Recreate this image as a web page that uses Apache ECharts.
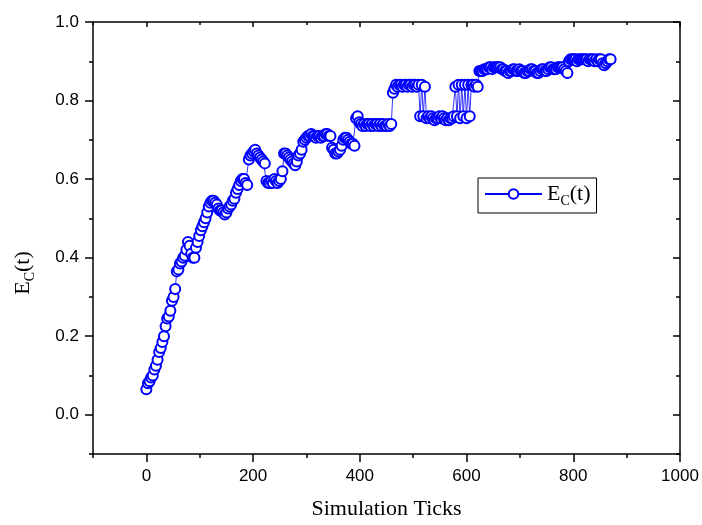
<!DOCTYPE html>
<html>
<head>
<meta charset="utf-8">
<script src="https://cdn.jsdelivr.net/npm/echarts@6/dist/echarts.min.js"></script>
<style>
  html, body { margin: 0; padding: 0; background: #fff; }
  #main { width: 702px; height: 525px; }
</style>
</head>
<body>
<div id="main"></div>
<script>
var chartDom = document.getElementById('main');
var myChart = echarts.init(chartDom);
var option;

const tickStep = 3;
const ecValues = [
  0.065, 0.08, 0.085, 0.095, 0.10, 0.115, 0.125, 0.14, 0.16, 0.17,
  0.185, 0.20, 0.225, 0.245, 0.25, 0.265, 0.29, 0.30, 0.32, 0.365,
  0.37, 0.385, 0.39, 0.40, 0.405, 0.42, 0.44, 0.43, 0.41, 0.40,
  0.40, 0.425, 0.44, 0.455, 0.47, 0.48, 0.49, 0.50, 0.515, 0.53,
  0.54, 0.545, 0.545, 0.54, 0.535, 0.525, 0.52, 0.52, 0.515, 0.51,
  0.515, 0.525, 0.53, 0.535, 0.545, 0.55, 0.565, 0.575, 0.585, 0.595,
  0.60, 0.60, 0.59, 0.585, 0.65, 0.66, 0.665, 0.67, 0.675, 0.665,
  0.66, 0.655, 0.65, 0.645, 0.64, 0.595, 0.59, 0.59, 0.595, 0.59,
  0.60, 0.595, 0.59, 0.595, 0.60, 0.62, 0.665, 0.665, 0.66, 0.655,
  0.65, 0.645, 0.64, 0.635, 0.645, 0.66, 0.665, 0.675, 0.695, 0.70,
  0.705, 0.71, 0.71, 0.715, 0.71, 0.71, 0.705, 0.71, 0.71, 0.705,
  0.71, 0.71, 0.715, 0.715, 0.71, 0.71, 0.68, 0.675, 0.665, 0.665,
  0.67, 0.675, 0.685, 0.70, 0.705, 0.705, 0.70, 0.695, 0.69, 0.69,
  0.685, 0.755, 0.76, 0.745, 0.74, 0.735, 0.74, 0.735, 0.74, 0.74,
  0.735, 0.74, 0.735, 0.74, 0.74, 0.735, 0.74, 0.735, 0.74, 0.735,
  0.735, 0.74, 0.735, 0.74, 0.82, 0.83, 0.84, 0.835, 0.84, 0.84,
  0.835, 0.84, 0.84, 0.835, 0.84, 0.84, 0.835, 0.84, 0.84, 0.835,
  0.84, 0.76, 0.84, 0.76, 0.835, 0.755, 0.76, 0.755, 0.76, 0.755,
  0.75, 0.755, 0.755, 0.76, 0.755, 0.76, 0.755, 0.75, 0.755, 0.75,
  0.755, 0.755, 0.76, 0.835, 0.76, 0.84, 0.755, 0.84, 0.76, 0.84,
  0.755, 0.84, 0.76, 0.84, 0.84, 0.835, 0.84, 0.835, 0.875, 0.875,
  0.875, 0.88, 0.88, 0.88, 0.885, 0.885, 0.88, 0.885, 0.885, 0.885,
  0.885, 0.885, 0.88, 0.88, 0.875, 0.875, 0.87, 0.875, 0.875, 0.88,
  0.88, 0.875, 0.875, 0.88, 0.875, 0.875, 0.87, 0.87, 0.875, 0.875,
  0.88, 0.88, 0.875, 0.875, 0.87, 0.87, 0.875, 0.88, 0.88, 0.875,
  0.875, 0.88, 0.885, 0.885, 0.88, 0.88, 0.88, 0.885, 0.885, 0.885,
  0.885, 0.88, 0.875, 0.87, 0.90, 0.905, 0.905, 0.905, 0.905, 0.90,
  0.905, 0.905, 0.905, 0.905, 0.905, 0.905, 0.90, 0.905, 0.905, 0.905,
  0.90, 0.905, 0.90, 0.905, 0.905, 0.895, 0.89, 0.895, 0.90, 0.905,
  0.905
];

const xMajor = [0, 200, 400, 600, 800, 1000];
const xMinor = [-100, 100, 300, 500, 700, 900];
const yMajor = [0, 0.2, 0.4, 0.6, 0.8, 1.0];
const yMinor = [-0.1, 0.1, 0.3, 0.5, 0.7, 0.9];

const seriesData = ecValues.map(function (v, i) { return [i * tickStep, v]; });

const black = '#000';
const blue = '#0000ff';
const serif = 'Liberation Serif';
const sans = 'Liberation Sans';

// value axis that only draws what "extra" switches on
function tickAxis(base, extra) {
  return Object.assign({
    type: 'value',
    splitLine: { show: false },
    axisLine: { show: false, onZero: false },
    axisLabel: { show: false },
    axisTick: { show: false }
  }, base, extra);
}

const xBase = { min: -100, max: 1000, gridIndex: 0 };
const yBase = { min: -0.1, max: 1.0, gridIndex: 0 };
const frameLine = { show: true, onZero: false, lineStyle: { color: black, width: 1.5 } };
const tickLine = { color: black, width: 1.5 };

option = {
  animation: false,
  backgroundColor: '#fff',
  grid: { left: 93, right: 22, top: 22, bottom: 71, outerBoundsMode: 'none' },
  legend: {
    left: 478,
    top: 178,
    padding: [5, 6, 5, 6],
    borderColor: black,
    borderWidth: 1,
    backgroundColor: '#fff',
    itemWidth: 57,
    itemHeight: 12,
    itemGap: 4,
    formatter: function () { return '{e|E}{c|C}{e|(t)}'; },
    textStyle: {
      rich: {
        e: { fontFamily: serif, fontSize: 22, color: black },
        c: { fontFamily: serif, fontSize: 14, color: black, padding: [14, 0, 0, 0] }
      }
    },
    data: ['Ec']
  },
  xAxis: [
    tickAxis(xBase, {
      position: 'bottom',
      axisLine: frameLine,
      axisTick: { show: true, inside: false, length: 8, customValues: xMajor, lineStyle: tickLine },
      axisLabel: {
        show: true, customValues: xMajor, margin: 14, fontFamily: sans, fontSize: 17, color: black,
        formatter: function (v) { return String(v); }
      },
      name: 'Simulation Ticks',
      nameLocation: 'middle',
      nameGap: 44,
      nameTextStyle: { fontFamily: serif, fontSize: 22, color: black }
    }),
    tickAxis(xBase, {
      position: 'bottom',
      axisTick: { show: true, inside: false, length: 4, customValues: xMinor, lineStyle: tickLine }
    }),
    tickAxis(xBase, {
      position: 'top',
      axisLine: frameLine,
      axisTick: { show: true, inside: true, length: 5, customValues: xMajor, lineStyle: tickLine }
    }),
    tickAxis(xBase, {
      position: 'top',
      axisTick: { show: true, inside: true, length: 3, customValues: xMinor, lineStyle: tickLine }
    })
  ],
  yAxis: [
    tickAxis(yBase, {
      position: 'left',
      axisLine: frameLine,
      axisTick: { show: true, inside: false, length: 8, customValues: yMajor, lineStyle: tickLine },
      axisLabel: {
        show: true, customValues: yMajor, margin: 14, fontFamily: sans, fontSize: 17, color: black,
        formatter: function (v) { return v.toFixed(1); }
      },
      name: '{e|E}{c|C}{e|(t)}',
      nameLocation: 'middle',
      nameGap: 56,
      nameRotate: 90,
      nameTextStyle: {
        padding: [0, 70, 0, 0],
        rich: {
          e: { fontFamily: serif, fontSize: 22, color: black },
          c: { fontFamily: serif, fontSize: 14, color: black, padding: [14, 0, 0, 0] }
        }
      }
    }),
    tickAxis(yBase, {
      position: 'left',
      axisTick: { show: true, inside: false, length: 4, customValues: yMinor, lineStyle: tickLine }
    }),
    tickAxis(yBase, {
      position: 'right',
      axisLine: frameLine,
      axisTick: { show: true, inside: true, length: 7, customValues: yMajor, lineStyle: tickLine }
    }),
    tickAxis(yBase, {
      position: 'right',
      axisTick: { show: true, inside: true, length: 4, customValues: yMinor, lineStyle: tickLine }
    })
  ],
  series: [
    {
      name: 'Ec',
      type: 'line',
      xAxisIndex: 0,
      yAxisIndex: 0,
      data: seriesData,
      symbol: 'emptyCircle',
      symbolSize: 10,
      showAllSymbol: true,
      color: blue,
      lineStyle: { color: blue, width: 0.8 },
      itemStyle: { color: blue, borderColor: blue, borderWidth: 0.8 }
    }
  ]
};

option && myChart.setOption(option);
</script>
</body>
</html>
